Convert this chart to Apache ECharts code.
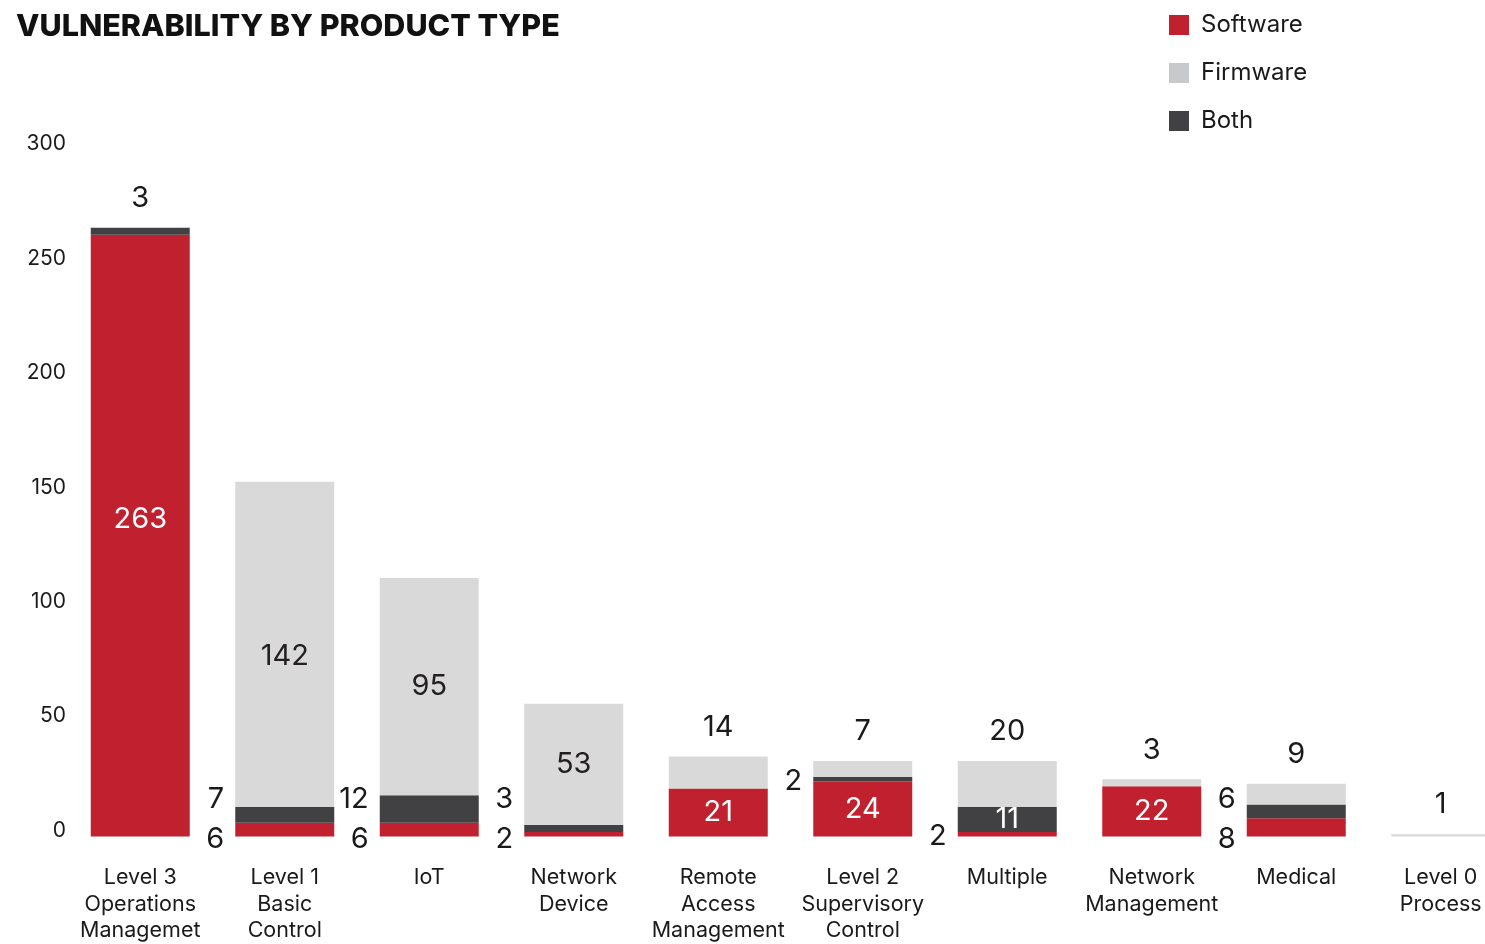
<!DOCTYPE html>
<html>
<head>
<meta charset="utf-8">
<script src="https://cdn.jsdelivr.net/npm/echarts@6/dist/echarts.min.js"></script>
<style>
  html, body { margin: 0; padding: 0; background: #fff; overflow: hidden; }
  #chart { width: 1513px; height: 944px; }
</style>
</head>
<body>
<div id="chart"></div>
<script>
// Product types and vulnerability counts
const categories = [
  'Level 3\nOperations\nManagemet',
  'Level 1\nBasic\nControl',
  'IoT',
  'Network\nDevice',
  'Remote\nAccess\nManagement',
  'Level 2\nSupervisory\nControl',
  'Multiple',
  'Network\nManagement',
  'Medical',
  'Level 0\nProcess'
];
const software = [263, 6, 6, 2, 21, 24, 2, 22, 8, 0];
const both     = [3, 7, 12, 3, 0, 2, 11, 0, 6, 0];
const firmware = [0, 142, 95, 53, 14, 7, 20, 3, 9, 1];
const yTicks = { min: 0, max: 300, step: 50 };

const FONT = 'Inter';
const COLORS = { software: '#C1202F', firmware: '#D9D9D9', both: '#414042' };

// Where each segment's value label sits
const placement = {
  software: ['inside', 'left', 'left', 'left', 'inside', 'inside', 'left', 'inside', 'left', null],
  both:     ['top', 'left', 'left', 'left', null, 'left', 'inside', null, 'left', null],
  firmware: [null, 'inside', 'inside', 'inside', 'top', 'top', 'top', 'top', 'top', 'top']
};
const insideColor = { software: '#ffffff', both: '#ffffff', firmware: '#231F20' };
const insideNudge = { software: { 0: -16 }, firmware: { 1: 12 } };

const chart = echarts.init(document.getElementById('chart'));

function buildData(key, values, pxPerUnit) {
  return values.map((v, i) => {
    const pos = placement[key][i];
    if (!pos || !v) return { value: v, label: { show: false } };
    const label = {
      show: true,
      position: pos,
      fontFamily: FONT,
      fontSize: 29,
      color: '#1A1A1A'
    };
    if (pos === 'inside') {
      label.color = insideColor[key];
      const n = (insideNudge[key] || {})[i];
      if (n) label.offset = [0, n];
    } else if (pos === 'left') {
      label.distance = 11;
      label.offset = [0, 2];
      // stacked pairs of side labels are spread apart so they don't collide
      const pair = placement.software[i] === 'left' && placement.both[i] === 'left';
      if (pair && pxPerUnit) {
        let center;
        let target;
        if (key === 'software') {
          center = (software[i] / 2) * pxPerUnit;
          target = -3;
        } else {
          center = (software[i] + both[i] / 2) * pxPerUnit;
          target = 37;
        }
        label.offset = [0, center - target];
      }
    } else if (pos === 'top') {
      label.distance = 15;
    }
    return { value: v, label };
  });
}

function makeOption(pxPerUnit) {
  const base = {
    type: 'bar',
    stack: 'total',
    barWidth: 99,
    emphasis: { disabled: true }
  };
  return {
    animation: false,
    textStyle: { fontFamily: FONT },
    title: {
      text: 'VULNERABILITY BY PRODUCT TYPE',
      left: 11,
      top: 6,
      textStyle: { fontFamily: FONT, fontSize: 30.5, fontWeight: 800, color: '#111' }
    },
    legend: {
      orient: 'vertical',
      left: 1169,
      top: 13,
      padding: 0,
      itemWidth: 20,
      itemHeight: 20,
      itemGap: 24,
      icon: 'rect',
      textStyle: { fontFamily: FONT, fontSize: 24, color: '#1A1A1A', padding: [0, 0, 0, 7] },
      data: [
        { name: 'Software' },
        { name: 'Firmware', itemStyle: { color: '#C8C9CB' } },
        { name: 'Both' }
      ]
    },
    grid: { left: 68, right: 0, top: 150, bottom: 106, containLabel: false },
    xAxis: {
      type: 'category',
      data: categories,
      axisLine: { show: false },
      axisTick: { show: false },
      axisLabel: {
        interval: 0,
        margin: 28,
        fontFamily: FONT,
        fontSize: 21.5,
        lineHeight: 26.5,
        color: '#1A1A1A',
        verticalAlign: 'top'
      }
    },
    yAxis: {
      type: 'value',
      min: yTicks.min,
      max: yTicks.max,
      interval: yTicks.step,
      splitLine: { show: false },
      axisLine: { show: false },
      axisTick: { show: false },
      axisLabel: {
        margin: 2,
        fontFamily: FONT,
        fontSize: 21,
        lineHeight: 12,
        verticalAlign: 'bottom',
        color: '#1A1A1A'
      }
    },
    series: [
      Object.assign({}, base, { name: 'Software', itemStyle: { color: COLORS.software }, data: buildData('software', software, pxPerUnit) }),
      Object.assign({}, base, { name: 'Both', itemStyle: { color: COLORS.both }, data: buildData('both', both, pxPerUnit) }),
      Object.assign({}, base, { name: 'Firmware', itemStyle: { color: COLORS.firmware }, data: buildData('firmware', firmware, pxPerUnit) })
    ]
  };
}

chart.setOption(makeOption(null));
// Measure the value scale, then spread the paired side labels
const y0 = chart.convertToPixel({ yAxisIndex: 0 }, 0);
const y1 = chart.convertToPixel({ yAxisIndex: 0 }, 1);
chart.setOption(makeOption(y0 - y1));
</script>
</body>
</html>
